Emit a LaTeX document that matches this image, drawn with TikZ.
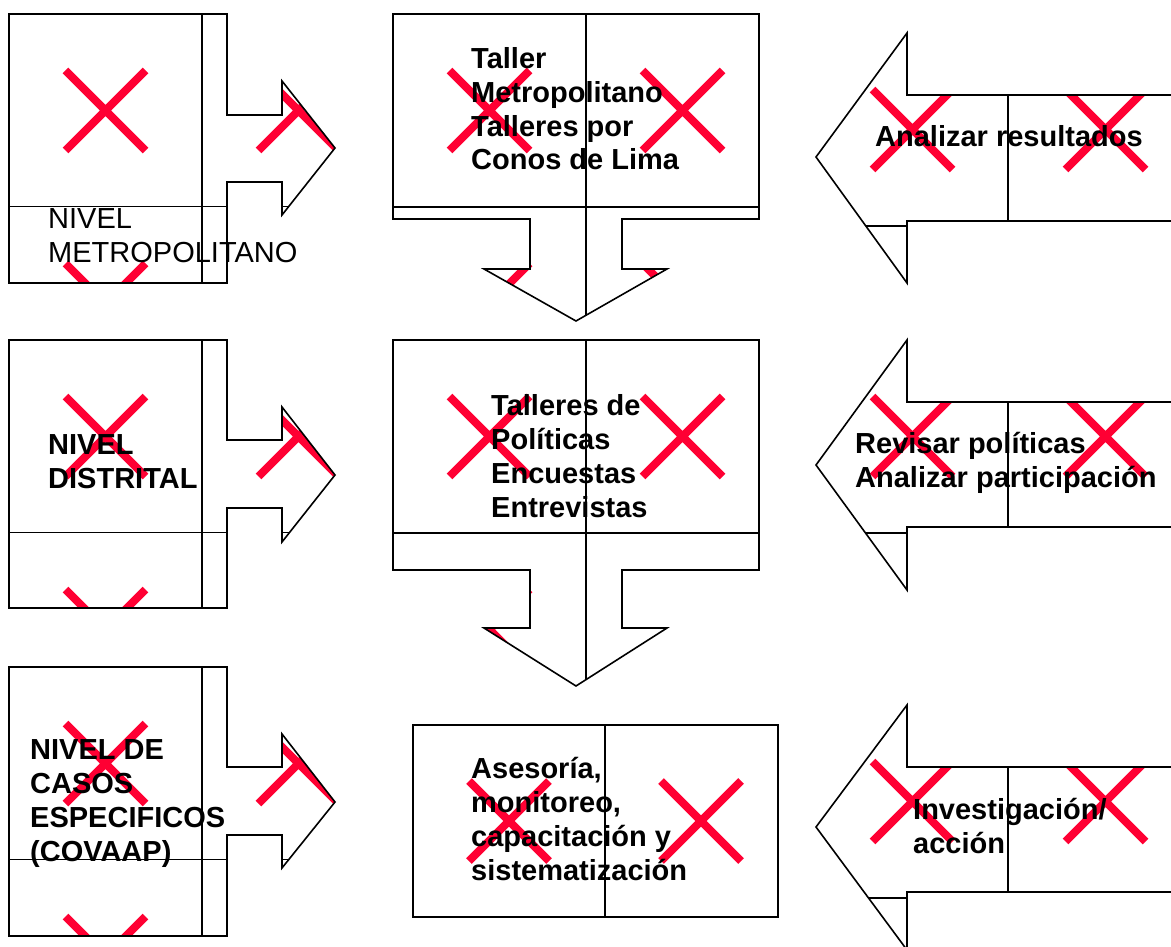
\documentclass[tikz,border=0pt]{standalone}
\usepackage{fontspec}
\setmainfont{Liberation Sans}
\definecolor{xred}{RGB}{255,0,51}
\tikzset{
  outline/.style={draw=black, line width=1.6pt, line join=miter},
  tileline/.style={draw=black, line width=1.6pt},
  xline/.style={draw=xred, line width=8pt},
  xmark/.pic={\draw[xline] (-40,-40) -- (40,40) (-40,40) -- (40,-40);},
  lbl/.style={anchor=base west, inner sep=0pt, align=left, font=\fontsize{29}{33.8}\selectfont},
  blbl/.style={lbl, font=\fontsize{29}{33.8}\selectfont\bfseries},
}
% left column: box with right arrow. args: T B S1 S2 H1 H2 P
\newcommand\LeftBoxArrow[7]{%
  \begin{scope}
    \clip (9,#1) -- (227,#1) -- (227,#3) -- (282,#3) -- (282,#5) -- (335,#7) -- (282,#6) -- (282,#4) -- (227,#4) -- (227,#2) -- (9,#2) -- cycle;
    \path (105.5,{#1+96.5}) pic{xmark} (298.5,{#1+96.5}) pic{xmark}
          (105.5,{#1+289.5}) pic{xmark} (298.5,{#1+289.5}) pic{xmark};
    \draw[tileline] (202,#1) -- (202,#2);
    \draw[tileline] (0,{#1+192.5}) -- (345,{#1+192.5});
  \end{scope}
  \draw[outline] (9,#1) -- (227,#1) -- (227,#3) -- (282,#3) -- (282,#5) -- (335,#7) -- (282,#6) -- (282,#4) -- (227,#4) -- (227,#2) -- (9,#2) -- cycle;
}
% centre column: box with down arrow. args: T Bbox Sbot Tip
\newcommand\DownBoxArrow[4]{%
  \begin{scope}
    \clip (393,#1) -- (759,#1) -- (759,#2) -- (622,#2) -- (622,#3) -- (667,#3) -- (576,#4) -- (484,#3) -- (530,#3) -- (530,#2) -- (393,#2) -- cycle;
    \path (489.5,{#1+96.5}) pic{xmark} (682.5,{#1+96.5}) pic{xmark}
          (489.5,{#1+289.5}) pic{xmark} (682.5,{#1+289.5}) pic{xmark};
    \draw[tileline] (586,#1) -- (586,#4);
    \draw[tileline] (380,{#1+193}) -- (780,{#1+193});
  \end{scope}
  \draw[outline] (393,#1) -- (759,#1) -- (759,#2) -- (622,#2) -- (622,#3) -- (667,#3) -- (576,#4) -- (484,#3) -- (530,#3) -- (530,#2) -- (393,#2) -- cycle;
}
% right column: left arrow. args: T(=H1) H2 S1 S2 P
\newcommand\LeftArrow[5]{%
  \begin{scope}
    \clip (816,#5) -- (907,#1) -- (907,#3) -- (1190,#3) -- (1190,#4) -- (907,#4) -- (907,#2) -- cycle;
    \path (912.5,{#1+96.5}) pic{xmark} (1105.5,{#1+96.5}) pic{xmark}
          (912.5,{#1+289.5}) pic{xmark} (1105.5,{#1+289.5}) pic{xmark};
    \draw[tileline] (1008,#1) -- (1008,#2);
    \draw[tileline] (800,{#1+193}) -- (1190,{#1+193});
  \end{scope}
  \draw[outline] (816,#5) -- (907,#1) -- (907,#3) -- (1190,#3) -- (1190,#4) -- (907,#4) -- (907,#2) -- cycle;
}
\begin{document}
\begin{tikzpicture}[x=1pt,y=-1pt]
\path[use as bounding box] (0,0) rectangle (1171,947);
\clip (0,0) rectangle (1171,947);
\fill[white] (0,0) rectangle (1171,947);

% left column
\LeftBoxArrow{14}{283}{115}{182}{81}{215}{148}
\LeftBoxArrow{340}{608}{440}{508}{407}{542}{475}
\LeftBoxArrow{667}{936}{767}{835}{734}{868}{802}

% centre column
\DownBoxArrow{14}{219}{269}{321}
\DownBoxArrow{340}{570}{628}{686}
\begin{scope}
  \clip (413,725) rectangle (778,917);
  \path (509,821) pic{xmark} (701,821) pic{xmark};
  \draw[tileline] (605,725) -- (605,917);
\end{scope}
\draw[outline] (413,725) rectangle (778,917);

% right column
\LeftArrow{33}{283}{95}{221}{157}
\LeftArrow{340}{590}{402}{527}{465}
\LeftArrow{705}{950}{767}{892}{827}

% labels (anchored at the baseline of the last line)
\node[lbl]  (metro) at (48,262) {NIVEL\\METROPOLITANO};
\node[blbl] (dist)  at (48,488) {NIVEL\\DISTRITAL};
\node[blbl] (casos) at (30,861) {NIVEL DE\\CASOS\\ESPECIFICOS\\(COVAAP)};
\node[blbl] (taller) at (471,170) {Taller\\Metropolitano\\Talleres por\\Conos de Lima};
\node[blbl] (polit) at (491,517) {Talleres de\\Políticas\\Encuestas\\Entrevistas};
\node[blbl] (ases) at (471,880) {Asesoría,\\monitoreo,\\capacitación y\\sistematización};
\node[blbl] (anal) at (875,147) {Analizar resultados};
\node[blbl] (revis) at (855,487) {Revisar políticas\\Analizar participación};
\node[blbl] (inves) at (913,853) {Investigación/\\acción};
\end{tikzpicture}
\end{document}
